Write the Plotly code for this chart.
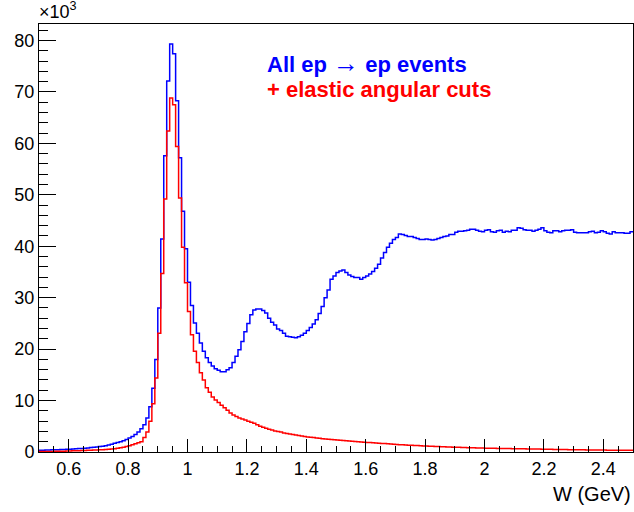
import numpy as np
import plotly.graph_objects as go

# bin low edges (GeV), bin width 0.01
bin_low = [round(0.50 + 0.01 * i, 2) for i in range(200)]
bin_high_last = 2.50

# All ep -> ep events (x10^3 counts per bin)
all_events = [
    0.35, 0.36, 0.38, 0.40, 0.42, 0.44, 0.46, 0.48, 0.50, 0.52,
    0.55, 0.58, 0.62, 0.66, 0.70, 0.75, 0.80, 0.86, 0.92, 0.98,
    1.05, 1.13, 1.22, 1.35, 1.5, 1.7, 1.85, 2.0, 2.2, 2.45,
    2.7, 3.0, 3.4, 3.9, 4.5, 5.3, 6.6, 8.8, 12.4, 18.0,
    28.0, 41.4, 57.6, 72.1, 79.3, 77.4, 68.3, 57.2, 46.8, 39.5,
    33.0, 28.5, 25.1, 23.1, 21.2, 19.6, 18.3, 17.4, 16.7, 16.2,
    15.9, 15.6, 15.6, 16.0, 16.4, 17.4, 18.6, 19.9, 21.5, 23.4,
    25.0, 26.7, 27.6, 27.8, 27.8, 27.5, 27.0, 26.0, 25.2, 24.7,
    23.9, 23.6, 23.1, 22.5, 22.4, 22.3, 22.2, 22.4, 22.7, 23.1,
    23.6, 24.2, 24.9, 25.7, 26.9, 28.3, 30.0, 31.5, 33.6, 34.2,
    34.9, 35.2, 35.4, 34.9, 34.4, 34.1, 33.9, 33.9, 33.6, 33.9,
    34.2, 34.6, 35.1, 35.7, 36.5, 37.7, 38.8, 39.8, 40.6, 41.3,
    41.7, 42.4, 42.3, 42.1, 41.9, 41.9, 41.7, 41.5, 41.3, 41.3,
    41.4, 41.3, 41.2, 41.3, 41.5, 41.7, 41.9, 42.0, 42.3, 42.3,
    42.7, 42.9, 42.9, 43.0, 43.1, 43.3, 43.3, 43.1, 42.9, 42.8,
    43.1, 43.2, 42.8, 42.7, 43.0, 43.1, 42.7, 42.9, 42.8, 43.1,
    43.1, 43.6, 43.5, 43.2, 43.1, 43.1, 42.9, 43.1, 43.3, 43.6,
    43.0, 42.7, 42.6, 43.0, 43.0, 42.8, 43.0, 43.1, 43.1, 43.2,
    42.7, 42.6, 42.6, 42.6, 42.6, 42.8, 42.9, 42.6, 42.7, 43.0,
    42.8, 42.5, 42.4, 42.8, 42.6, 42.6, 42.6, 42.5, 42.5, 42.8,
]

# + elastic angular cuts (x10^3 counts per bin)
elastic_cuts = [
    0.08, 0.09, 0.10, 0.11, 0.12, 0.13, 0.14, 0.16, 0.17, 0.19,
    0.20, 0.22, 0.24, 0.26, 0.28, 0.30, 0.32, 0.34, 0.37, 0.39,
    0.42, 0.45, 0.49, 0.53, 0.58, 0.64, 0.72, 0.82, 0.94, 1.08,
    1.22, 1.4, 1.6, 1.8, 2.0, 2.8, 3.9, 6.0, 9.4, 14.4,
    23.1, 34.7, 49.2, 62.4, 68.8, 67.5, 59.4, 49.4, 39.8, 32.9,
    27.3, 22.8, 19.6, 17.4, 15.4, 14.0, 12.5, 11.6, 10.7, 10.1,
    9.6, 9.1, 8.6, 8.1, 7.6, 7.2, 6.9, 6.6, 6.4, 6.2,
    6.0, 5.8, 5.6, 5.3, 5.0, 4.8, 4.6, 4.4, 4.3, 4.1,
    4.0, 3.9, 3.7, 3.6, 3.5, 3.4, 3.3, 3.2, 3.1, 3.0,
    2.9, 2.85, 2.8, 2.73, 2.66, 2.6, 2.54, 2.48, 2.43, 2.38,
    2.33, 2.28, 2.23, 2.18, 2.13, 2.08, 2.03, 1.99, 1.95, 1.91,
    1.87, 1.83, 1.79, 1.75, 1.71, 1.67, 1.63, 1.59, 1.55, 1.51,
    1.47, 1.43, 1.40, 1.36, 1.33, 1.30, 1.27, 1.24, 1.21, 1.18,
    1.15, 1.12, 1.10, 1.07, 1.05, 1.02, 1.00, 0.98, 0.96, 0.94,
    0.92, 0.90, 0.88, 0.86, 0.85, 0.83, 0.81, 0.80, 0.78, 0.77,
    0.75, 0.74, 0.73, 0.71, 0.70, 0.69, 0.68, 0.67, 0.66, 0.65,
    0.64, 0.63, 0.62, 0.61, 0.60, 0.59, 0.58, 0.57, 0.56, 0.55,
    0.54, 0.53, 0.52, 0.51, 0.50, 0.49, 0.48, 0.47, 0.46, 0.45,
    0.44, 0.43, 0.43, 0.42, 0.41, 0.40, 0.40, 0.39, 0.38, 0.37,
    0.37, 0.36, 0.35, 0.35, 0.34, 0.34, 0.33, 0.33, 0.32, 0.32,
]

x_tickvals = [0.6, 0.8, 1.0, 1.2, 1.4, 1.6, 1.8, 2.0, 2.2, 2.4]
x_ticktext = ["0.6", "0.8", "1", "1.2", "1.4", "1.6", "1.8", "2", "2.2", "2.4"]
y_tickvals = [0, 10, 20, 30, 40, 50, 60, 70, 80]
y_ticktext = ["0", "10", "20", "30", "40", "50", "60", "70", "80"]

FONT = "Liberation Sans, Arial, sans-serif"

x_steps = bin_low + [bin_high_last]

fig = go.Figure()
fig.add_trace(go.Scatter(
    x=x_steps, y=all_events + [all_events[-1]], mode="lines",
    line=dict(color="#0000ff", width=1.5, shape="hv"), showlegend=False,
))
fig.add_trace(go.Scatter(
    x=x_steps, y=elastic_cuts + [elastic_cuts[-1]], mode="lines",
    line=dict(color="#ff0000", width=1.5, shape="hv"), showlegend=False,
))

fig.update_layout(
    width=634, height=512,
    margin=dict(l=39, r=1, t=24, b=60),
    paper_bgcolor="white", plot_bgcolor="white",
    font=dict(family=FONT, size=18, color="black"),
    xaxis=dict(
        range=[0.5, 2.5], showgrid=False, zeroline=False,
        showline=True, linecolor="black", linewidth=1, mirror=True,
        ticks="inside", ticklen=13, tickcolor="black", tickwidth=1,
        tickvals=x_tickvals, ticktext=x_ticktext,
        tickfont=dict(family=FONT, size=18),
        minor=dict(tick0=0.5, dtick=0.05, ticks="inside", ticklen=6,
                   tickcolor="black", tickwidth=1, showgrid=False),
    ),
    yaxis=dict(
        range=[0, 83.2], showgrid=False, zeroline=False,
        showline=True, linecolor="black", linewidth=1, mirror=True,
        ticks="inside", ticklen=17, tickcolor="black", tickwidth=1,
        tickvals=y_tickvals, ticktext=y_ticktext,
        tickfont=dict(family=FONT, size=18),
        minor=dict(tick0=0, dtick=2, ticks="inside", ticklen=9,
                   tickcolor="black", tickwidth=1, showgrid=False),
    ),
    annotations=[
        dict(text="×10<sup>3</sup>", xref="paper", yref="paper", x=-0.003, y=1.0,
             xanchor="left", yanchor="bottom", showarrow=False,
             font=dict(family=FONT, size=18, color="black")),
        dict(text="W (GeV)", xref="paper", yref="paper", x=1.0, y=-0.099,
             xanchor="right", yanchor="middle", showarrow=False,
             font=dict(family=FONT, size=20, color="black")),
        dict(text="<b>All ep</b> <span style='font-size:26px'>→</span> <b>ep events</b>",
             xref="x", yref="y",
             x=1.2626, y=75.6, xanchor="left", yanchor="middle", showarrow=False,
             font=dict(family=FONT, size=22, color="#0000ff")),
        dict(text="<b>+ elastic angular cuts</b>", xref="x", yref="y",
             x=1.2626, y=70.4, xanchor="left", yanchor="middle", showarrow=False,
             font=dict(family=FONT, size=22, color="#ff0000")),
    ],
)

# remove the default 8px page margin so the figure fills the window exactly
fig.write_html("out.html",
               config={"displayModeBar": False},
               post_script="document.body.style.margin='0';document.body.style.overflow='hidden';")
